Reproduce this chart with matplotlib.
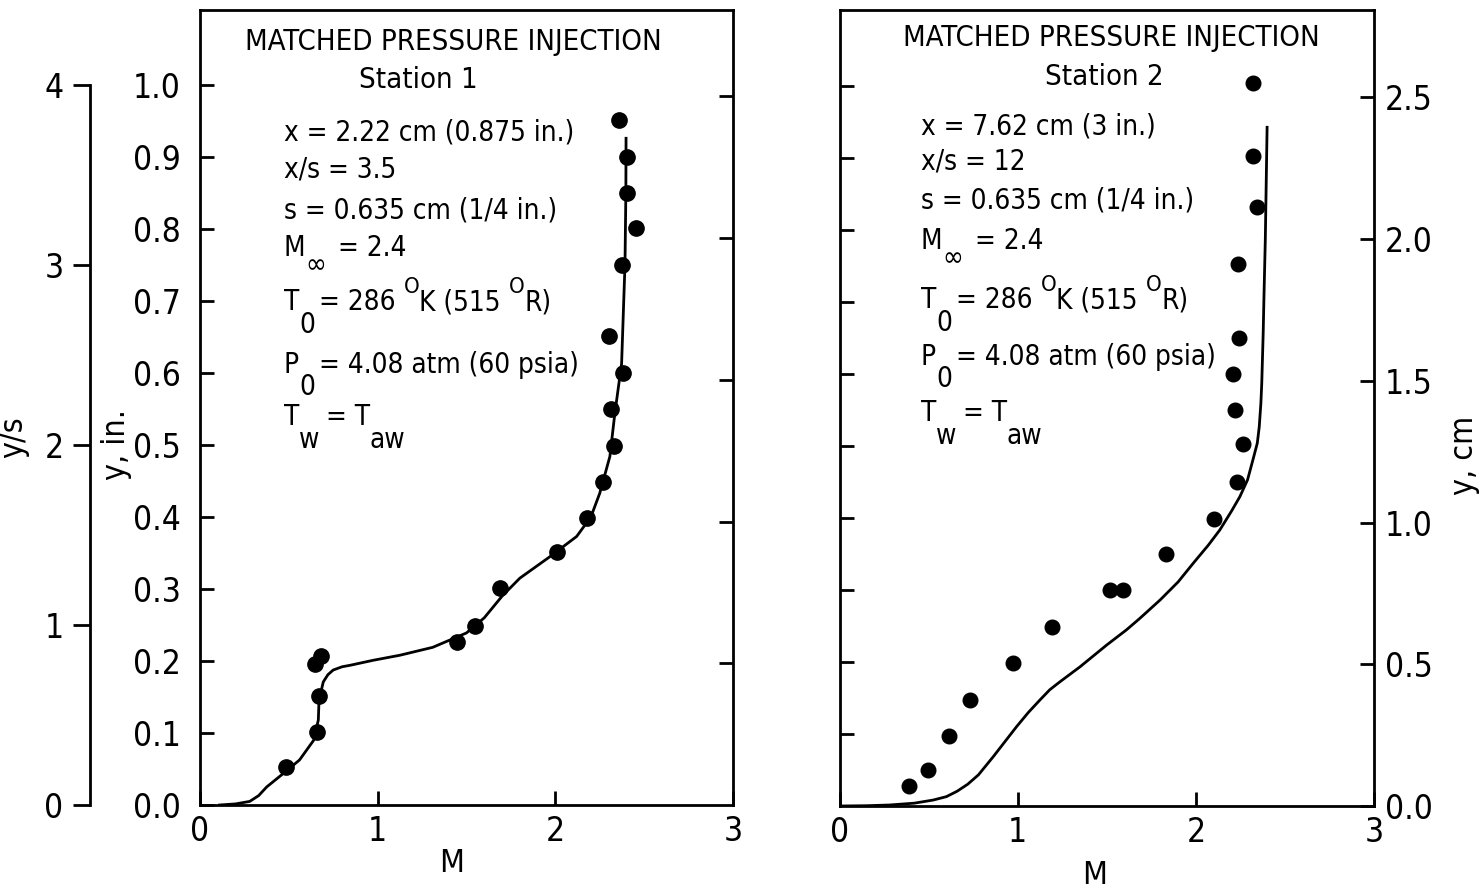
import matplotlib
matplotlib.use("Agg")
import matplotlib.pyplot as plt

# ---- data ----
# Station 1: y in inches vs Mach number
st1_pts_M = [0.484, 0.66, 0.67, 0.647, 0.679, 1.448, 1.548, 1.688, 2.007, 2.18,
             2.27, 2.33, 2.313, 2.38, 2.30, 2.373, 2.454, 2.405, 2.401, 2.36]
st1_pts_y = [0.053, 0.102, 0.151, 0.196, 0.207, 0.227, 0.249, 0.301, 0.352, 0.398,
             0.448, 0.499, 0.550, 0.600, 0.651, 0.750, 0.801, 0.850, 0.900, 0.952]
st1_curve_M = [0.11, 0.20, 0.28, 0.33, 0.375, 0.47, 0.56, 0.64, 0.666, 0.67, 0.694,
               0.72, 0.75, 0.80, 0.844, 0.975, 1.125, 1.31, 1.50, 1.60, 1.70, 1.80,
               1.97, 2.12, 2.20, 2.25, 2.307, 2.335, 2.373, 2.385, 2.392, 2.397, 2.398]
st1_curve_y = [0.0, 0.0015, 0.005, 0.013, 0.025, 0.044, 0.0625, 0.09, 0.118, 0.146, 0.171,
               0.181, 0.1875, 0.192, 0.194, 0.201, 0.208, 0.219, 0.239, 0.26, 0.29, 0.315,
               0.345, 0.373, 0.40, 0.433, 0.484, 0.544, 0.613, 0.70, 0.75, 0.85, 0.926]

# Station 2: y in cm vs Mach number
st2_pts_M = [0.39, 0.498, 0.614, 0.732, 0.975, 1.194, 1.518, 1.589, 1.832, 2.103,
             2.229, 2.263, 2.22, 2.207, 2.244, 2.238, 2.341, 2.319, 2.322]
st2_pts_y = [0.072, 0.127, 0.247, 0.374, 0.505, 0.630, 0.762, 0.762, 0.889, 1.011,
             1.144, 1.277, 1.397, 1.524, 1.65, 1.912, 2.112, 2.293, 2.551]
st2_curve_M = [0.0, 0.15, 0.28, 0.42, 0.526, 0.60, 0.66, 0.72, 0.78, 0.863, 0.994, 1.06,
               1.125, 1.18, 1.237, 1.35, 1.50, 1.61, 1.686, 1.80, 1.90, 1.985, 2.07,
               2.135, 2.20, 2.247, 2.29, 2.32, 2.345, 2.356, 2.365, 2.37, 2.378, 2.382,
               2.39, 2.40]
st2_curve_y = [0.0, 0.001, 0.0035, 0.01, 0.021, 0.033, 0.052, 0.077, 0.11, 0.174, 0.28, 0.33,
               0.374, 0.41, 0.438, 0.491, 0.568, 0.621, 0.662, 0.727, 0.79, 0.856, 0.92,
               0.974, 1.04, 1.091, 1.15, 1.22, 1.28, 1.338, 1.42, 1.491, 1.667, 1.785,
               2.0, 2.394]

x_ticks = [0, 1, 2, 3]
in_ticks = [0.0, 0.1, 0.2, 0.3, 0.4, 0.5, 0.6, 0.7, 0.8, 0.9, 1.0]
cm_ticks = [0.0, 0.5, 1.0, 1.5, 2.0, 2.5]
ys_ticks = [0, 1, 2, 3, 4]

plt.rcParams["font.family"] = ["DejaVu Sans"]
plt.rcParams["font.stretch"] = "condensed"

W, H = 1483, 892
fig = plt.figure(figsize=(W / 100, H / 100), dpi=100)


def fx(px):
    return px / W


def fy(py):
    return 1 - py / H


LW = 2.0
TICK = dict(direction="in", length=10, width=2)
FS_TICK = 24
FS_TXT = 20
FS_TITLE = 21

# ---- left panel (station 1) ----
ax1 = fig.add_axes([fx(200), fy(805), fx(733) - fx(200), fy(10) - fy(805)])
ax1.plot(st1_curve_M, st1_curve_y, color="black", lw=2)
ax1.plot(st1_pts_M, st1_pts_y, "o", color="black", ms=11)

# cm ticks on the right of the left panel (no labels)
ax1r = ax1.twinx()
ax1r.set_ylim(0, 2.54 * 795 / 720)
ax1r.set_yticks(cm_ticks[1:])
ax1r.set_yticklabels([])
ax1r.tick_params(axis="y", **TICK)
for s in ax1r.spines.values():
    s.set_visible(False)

# y/s scale to the far left
ax1s = ax1.twinx()
ax1s.set_ylim(0, 4 * 795 / 720)
ax1s.yaxis.tick_left()
ax1s.set_yticks(ys_ticks)
ax1s.set_yticklabels([str(t) for t in ys_ticks])
ax1s.tick_params(axis="y", direction="out", length=12, width=2, labelsize=FS_TICK, pad=7)
for k, s in ax1s.spines.items():
    s.set_visible(k == "left")
ax1s.spines["left"].set_position(("axes", -110 / 533))
ax1s.spines["left"].set_bounds(0, 4)
ax1s.spines["left"].set_linewidth(LW)

ax1.yaxis.tick_left()
ax1.set_xlim(0, 3)
ax1.set_ylim(0, 795 / 720)
ax1.set_xticks(x_ticks)
ax1.set_xticklabels([str(t) for t in x_ticks])
ax1.set_yticks(in_ticks)
ax1.set_yticklabels(["%.1f" % t for t in in_ticks])
ax1.tick_params(axis="x", labelsize=FS_TICK, pad=7, **TICK)
ax1.tick_params(axis="y", labelsize=FS_TICK, pad=14, **TICK)

# ---- right panel (station 2) ----
ax2 = fig.add_axes([fx(839.5), fy(806), fx(1374) - fx(839.5), fy(10) - fy(806)])
ax2.plot(st2_curve_M, st2_curve_y, color="black", lw=2)
ax2.plot(st2_pts_M, st2_pts_y, "o", color="black", ms=10.5)

# inch ticks on the left of the right panel (no labels)
ax2l = ax2.twinx()
ax2l.set_ylim(0, 796 / 283.5 / 2.54)
ax2l.yaxis.tick_left()
ax2l.set_yticks(in_ticks[1:])
ax2l.set_yticklabels([])
ax2l.tick_params(axis="y", **TICK)
for s in ax2l.spines.values():
    s.set_visible(False)

# twinx() moved the parent's ticks to the left; put the cm scale back on the right
ax2.yaxis.tick_right()
ax2.set_xlim(0, 3)
ax2.set_ylim(0, 796 / 283.5)
ax2.set_xticks(x_ticks)
ax2.set_xticklabels([str(t) for t in x_ticks])
ax2.set_yticks(cm_ticks)
ax2.set_yticklabels(["%.1f" % t for t in cm_ticks])
ax2.tick_params(axis="x", labelsize=FS_TICK, pad=7, **TICK)
ax2.tick_params(axis="y", labelsize=FS_TICK, pad=8, **TICK)

for ax in (ax1, ax2):
    for s in ax.spines.values():
        s.set_linewidth(LW)

# ---- axis labels ----
fig.text(fx(14), fy(437), "y/s", rotation=90, ha="center", va="center", fontsize=23)
fig.text(fx(116), fy(445), "y, in.", rotation=90, ha="center", va="center", fontsize=23)
fig.text(fx(1464), fy(455), "y, cm", rotation=90, ha="center", va="center", fontsize=23)
fig.text(fx(452), fy(864), "M", ha="center", va="center", fontsize=23)
fig.text(fx(1095), fy(875), "M", ha="center", va="center", fontsize=23)


# ---- annotation blocks ----
def rich(ax, x, y, pieces, size=FS_TXT):
    """pieces: (text, dy_px, gap_px, scale); dy relative to the line centre."""
    base = ax.text(fx(x), fy(y), pieces[0][0], transform=fig.transFigure,
                   ha="left", va="center", fontsize=size)
    prev = base
    for txt, dy, gap, sc in pieces[1:]:
        prev = ax.annotate(txt, xy=(1, 0.5), xycoords=(prev, base),
                           xytext=(gap, dy), textcoords="offset pixels",
                           ha="left", va="center", fontsize=size * sc,
                           annotation_clip=False)
    return base


def block(ax, x0, title_xy, station_xy, station, ys, lines12):
    ax.text(fx(title_xy[0]), fy(title_xy[1]), "MATCHED PRESSURE INJECTION",
            transform=fig.transFigure, ha="center", va="center", fontsize=FS_TITLE)
    ax.text(fx(station_xy[0]), fy(station_xy[1]), station,
            transform=fig.transFigure, ha="center", va="center", fontsize=FS_TITLE)
    rich(ax, x0, ys[0], [(lines12[0], 0, 0, 1)])
    rich(ax, x0, ys[1], [(lines12[1], 0, 0, 1)])
    rich(ax, x0, ys[2], [("s = 0.635 cm (1/4 in.)", 0, 0, 1)])
    rich(ax, x0, ys[3], [("M", 0, 0, 1), ("\u221e", -17, 0, 1), ("= 2.4", 0, 12, 1)])
    rich(ax, x0, ys[4], [("T", 0, 0, 1), ("0", -23, 0, 1), ("= 286", 0, 4, 1),
                         ("O", 15, 8, 0.8), ("K (515", 0, 0, 1), ("O", 15, 8, 0.8),
                         ("R)", 0, 0, 1)])
    rich(ax, x0, ys[5], [("P", 0, 0, 1), ("0", -22, 0, 1),
                         ("= 4.08 atm (60 psia)", 0, 4, 1)])
    rich(ax, x0, ys[6], [("T", 0, 0, 1), ("w", -23, 0, 1), ("= T", 0, 6, 1),
                         ("aw", -23, 0, 1)])


block(ax1, 284, (453, 42), (418, 80), "Station 1", [132, 170, 210, 248, 302, 365, 417],
      ["x = 2.22 cm (0.875 in.)", "x/s = 3.5"])
block(ax2, 921, (1111, 38), (1104, 77), "Station 2", [127, 161, 201, 241, 300, 357, 413],
      ["x = 7.62 cm (3 in.)", "x/s = 12"])

fig.savefig("out.png", dpi=100)
